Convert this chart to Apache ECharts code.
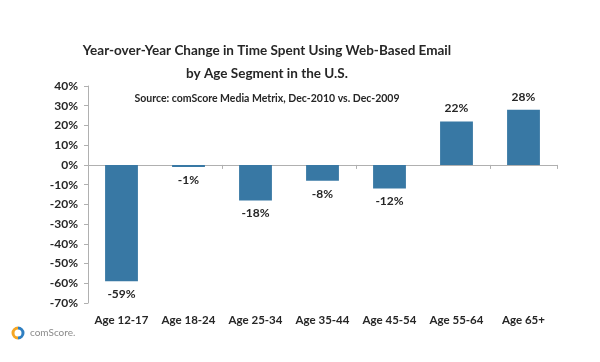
<!DOCTYPE html>
<html>
<head>
<meta charset="utf-8">
<script src="https://cdn.jsdelivr.net/npm/echarts@6/dist/echarts.min.js"></script>
<style>html,body{margin:0;padding:0;background:#fff;}#c{width:600px;height:362px;}</style>
</head>
<body>
<div id="c"></div>
<script>
var categories = ['Age 12-17', 'Age 18-24', 'Age 25-34', 'Age 35-44', 'Age 45-54', 'Age 55-64', 'Age 65+'];
var values = [-59, -1, -18, -8, -12, 22, 28];
var titleLine1 = 'Year-over-Year Change in Time Spent Using Web-Based Email';
var titleLine2 = 'by Age Segment in the U.S.';
var subtitleText = 'Source: comScore Media Metrix, Dec-2010 vs. Dec-2009';

var FONT = 'Lato';
var chart = echarts.init(document.getElementById('c'), null, {renderer: 'canvas'});
chart.setOption({
  animation: false,
  backgroundColor: '#ffffff',
  title: [
    {text: titleLine1, left: 262, top: 39, textAlign: 'center',
     textStyle: {fontFamily: FONT, fontWeight: 'bold', fontSize: 13.5, color: '#262626'}},
    {text: titleLine2, left: 262, top: 62, textAlign: 'center',
     textStyle: {fontFamily: FONT, fontWeight: 'bold', fontSize: 13.5, color: '#262626'}},
    {text: subtitleText, left: 262, top: 88, textAlign: 'center',
     textStyle: {fontFamily: FONT, fontWeight: 'bold', fontSize: 10.5, color: '#262626'}}
  ],
  grid: {left: 88, right: 43, top: 86, bottom: 59, containLabel: false},
  xAxis: [
    {type: 'category', data: categories, position: 'bottom',
     axisLine: {show: false, onZero: false}, axisTick: {show: false},
     axisLabel: {interval: 0, margin: 11, fontFamily: FONT, fontWeight: 'bold', fontSize: 11.5, color: '#262626'}},
    {type: 'category', data: categories, position: 'top',
     axisLine: {show: true, onZero: true, lineStyle: {color: '#b0b0b0', width: 1}},
     axisTick: {show: true, inside: true, length: 4, lineStyle: {color: '#b0b0b0'}},
     axisLabel: {show: false}}
  ],
  yAxis: {
    type: 'value', min: -70, max: 40, interval: 10,
    axisLine: {show: true, lineStyle: {color: '#b0b0b0'}},
    axisTick: {show: true, length: 4, lineStyle: {color: '#b0b0b0'}},
    splitLine: {show: false},
    axisLabel: {margin: 10, fontFamily: FONT, fontWeight: 'bold', fontSize: 12, color: '#262626',
      formatter: function (v) { return v + '%'; }}
  },
  series: [{
    type: 'bar', xAxisIndex: 0, barWidth: '49%',
    itemStyle: {color: '#3878a4'},
    data: values.map(function (v) {
      return {value: v, label: {position: v < 0 ? 'bottom' : 'top'}};
    }),
    label: {show: true, distance: 7, fontFamily: FONT, fontWeight: 'bold', fontSize: 12, color: '#262626',
      formatter: function (p) { return p.value + '%'; }}
  }],
  graphic: [
    {type: 'arc', shape: {cx: 18, cy: 333, r: 5, startAngle: Math.PI * 0.5, endAngle: Math.PI * 1.5},
     style: {stroke: '#f5a623', lineWidth: 3, fill: null}},
    {type: 'arc', shape: {cx: 18, cy: 333, r: 5, startAngle: -Math.PI * 0.5, endAngle: Math.PI * 0.5},
     style: {stroke: '#2f7fc1', lineWidth: 3, fill: null}},
    {type: 'text', left: 30, top: 328, style: {text: 'comScore.', fontFamily: FONT, fontSize: 10, fill: '#8a8a8a'}}
  ]
});
</script>
</body>
</html>
